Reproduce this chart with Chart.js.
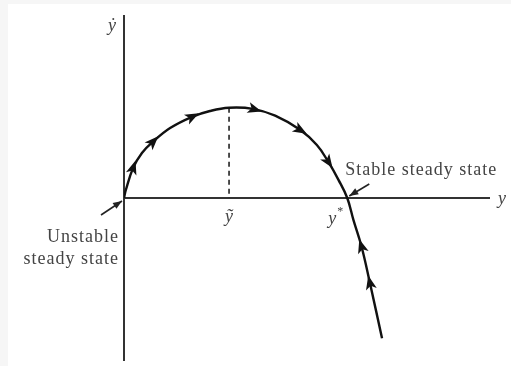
<!DOCTYPE html>
<html>
<head>
<meta charset="utf-8">
<script src="https://cdn.jsdelivr.net/npm/chart.js@4"></script>
<style>
  html, body { margin: 0; padding: 0; background: #f6f6f6; }
  #wrap { position: absolute; left: 8px; top: 4px; width: 503px; height: 362px; background: #fff; }
</style>
</head>
<body>
<div id="wrap"><canvas id="phase" width="503" height="362"></canvas></div>
<script>
// phase line: y on the horizontal axis, y-dot on the vertical axis
const yVals    = [0, 0.05, 0.25, 0.49, 0.79, 1.26, 1.86, 2.35, 2.87, 3.52, 4.13, 4.81, 5.27, 5.58, 5.86, 6.10, 6.27, 6.49, 6.72, 7.05];
const yDotVals = [0, 0.22, 0.83, 1.24, 1.55, 1.93, 2.24, 2.40, 2.49, 2.46, 2.27, 1.88, 1.46, 1.00, 0.50, 0, -0.61, -1.34, -2.35, -3.87];

// marked points on the y axis
const yTilde = 2.87;
const yStar = 6.10;

// where the direction arrows sit (by y value)
const arrowsForward = [0.25, 0.79, 1.86, 3.56, 4.81, 5.58];
const arrowsBackward = [6.49, 6.72];

const curve = yVals.map((v, i) => ({ x: v, y: yDotVals[i] }));
const peakIdx = yVals.indexOf(yTilde);
const dashed = [{ x: yTilde, y: yDotVals[peakIdx] }, { x: yTilde, y: 0 }];

const serif = '"Liberation Serif", "DejaVu Serif", serif';

function pointAt(chart, xv) {
  const pts = chart.getDatasetMeta(0).data;
  for (let i = 0; i < yVals.length - 1; i++) {
    if (xv >= yVals[i] && xv <= yVals[i + 1]) {
      const t = (xv - yVals[i]) / (yVals[i + 1] - yVals[i]);
      const a = pts[i], b = pts[i + 1];
      return { x: a.x + (b.x - a.x) * t, y: a.y + (b.y - a.y) * t, dx: b.x - a.x, dy: b.y - a.y };
    }
  }
  return null;
}

function head(ctx, px, py, dx, dy, len, half) {
  const n = Math.hypot(dx, dy);
  const ux = dx / n, uy = dy / n;
  ctx.beginPath();
  ctx.moveTo(px + ux * len * 0.55, py + uy * len * 0.55);
  ctx.lineTo(px - ux * len * 0.45 - uy * half, py - uy * len * 0.45 + ux * half);
  ctx.lineTo(px - ux * len * 0.2, py - uy * len * 0.2);
  ctx.lineTo(px - ux * len * 0.45 + uy * half, py - uy * len * 0.45 - ux * half);
  ctx.closePath();
  ctx.fill();
}

function pointer(ctx, x1, y1, x2, y2) {
  ctx.beginPath();
  ctx.moveTo(x1, y1);
  ctx.lineTo(x2, y2);
  ctx.stroke();
  const n = Math.hypot(x2 - x1, y2 - y1);
  const ux = (x2 - x1) / n, uy = (y2 - y1) / n;
  ctx.beginPath();
  ctx.moveTo(x2, y2);
  ctx.lineTo(x2 - ux * 9 - uy * 3.5, y2 - uy * 9 + ux * 3.5);
  ctx.lineTo(x2 - ux * 9 + uy * 3.5, y2 - uy * 9 - ux * 3.5);
  ctx.closePath();
  ctx.fill();
}

const axesPlugin = {
  id: 'axesPlugin',
  beforeDatasetsDraw(chart) {
    const { ctx, scales: { x, y } } = chart;
    const x0 = x.getPixelForValue(0), y0 = y.getPixelForValue(0);
    ctx.save();
    ctx.strokeStyle = '#333';
    ctx.lineWidth = 2;
    ctx.beginPath();
    ctx.moveTo(x0, y.top);
    ctx.lineTo(x0, y.bottom);
    ctx.moveTo(x0, y0);
    ctx.lineTo(x.right, y0);
    ctx.stroke();
    ctx.restore();
  },
  afterDatasetsDraw(chart) {
    const { ctx, scales: { x, y } } = chart;
    const x0 = x.getPixelForValue(0), y0 = y.getPixelForValue(0);
    ctx.save();
    ctx.fillStyle = '#111';
    arrowsForward.forEach(v => {
      const p = pointAt(chart, v);
      head(ctx, p.x, p.y, p.dx, p.dy, 14, 5.5);
    });
    arrowsBackward.forEach(v => {
      const p = pointAt(chart, v);
      head(ctx, p.x, p.y, -p.dx, -p.dy, 14, 5.5);
    });

    // pointers to the two steady states
    ctx.strokeStyle = '#222';
    ctx.fillStyle = '#222';
    ctx.lineWidth = 1.6;
    pointer(ctx, x0 - 23, y0 + 17, x0 - 2, y0 + 3);
    const xs = x.getPixelForValue(yStar);
    pointer(ctx, xs + 22, y0 - 14, xs + 2, y0 - 2);

    // text
    ctx.fillStyle = '#444';
    ctx.letterSpacing = '1px';
    ctx.font = '18px ' + serif;
    ctx.textBaseline = 'middle';
    ctx.textAlign = 'right';
    ctx.fillText('Unstable', x0 - 5, y0 + 39);
    ctx.fillText('steady state', x0 - 5, y0 + 61);
    ctx.textAlign = 'left';
    ctx.fillText('Stable steady state', xs - 2, y0 - 28);

    ctx.letterSpacing = '0px';
    ctx.font = 'italic 18px ' + serif;
    ctx.textAlign = 'center';
    ctx.fillText('\u1E8F', x0 - 12, y.top + 11);
    ctx.fillText('y', x.right + 12, y0 + 1);
    ctx.fillText('\u1EF9', x.getPixelForValue(yTilde), y0 + 19);
    ctx.fillText('y', xs - 15, y0 + 21);
    ctx.font = '12px ' + serif;
    ctx.fillText('*', xs - 7, y0 + 14);
    ctx.restore();
  }
};

new Chart(document.getElementById('phase'), {
  type: 'line',
  data: {
    datasets: [
      {
        data: curve,
        borderColor: '#111',
        borderWidth: 2.4,
        pointRadius: 0,
        tension: 0.4,
        fill: false
      },
      {
        data: dashed,
        borderColor: '#222',
        borderWidth: 1.6,
        borderDash: [5, 4],
        pointRadius: 0,
        fill: false
      }
    ]
  },
  options: {
    responsive: false,
    animation: false,
    events: [],
    layout: { padding: { left: 116, right: 21, top: 11, bottom: 5 } },
    plugins: { legend: { display: false }, tooltip: { enabled: false } },
    scales: {
      x: { type: 'linear', min: 0, max: 10, display: false },
      y: { type: 'linear', min: -4.5, max: 5.05, display: false }
    }
  },
  plugins: [axesPlugin]
});
</script>
</body>
</html>
